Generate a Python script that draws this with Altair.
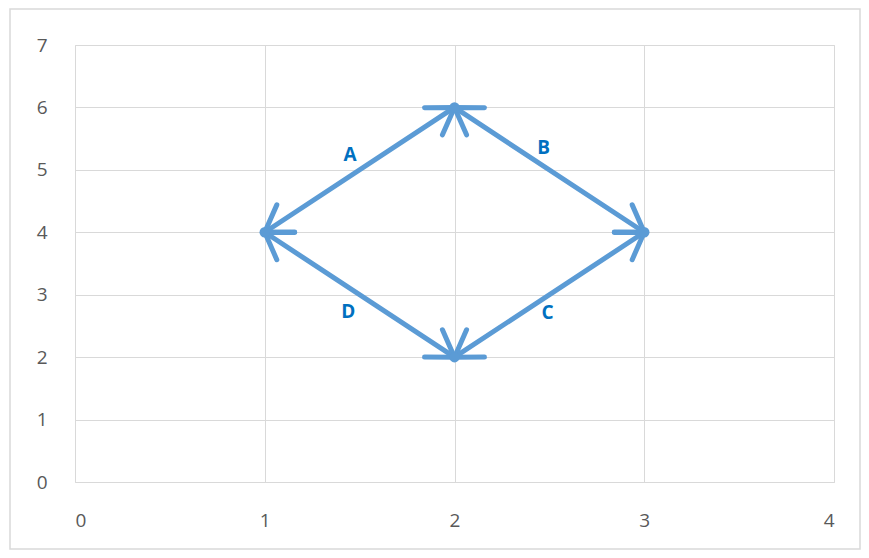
import math
import altair as alt
import pandas as pd

# ---- data ----
seg_names = ["A", "B", "C", "D"]
seg_x1 = [1, 2, 3, 2]
seg_y1 = [4, 6, 4, 2]
seg_x2 = [2, 3, 2, 1]
seg_y2 = [6, 4, 2, 4]
vertex_x = [1, 2, 3, 2]
vertex_y = [4, 6, 4, 2]
label_x = [1.45, 2.47, 2.49, 1.44]
label_y = [5.24, 5.35, 2.70, 2.72]
x_ticks = [0, 1, 2, 3, 4]
y_ticks = [0, 1, 2, 3, 4, 5, 6, 7]

W, H = 759, 437
X_DOMAIN = [0, 4]
Y_DOMAIN = [0, 7]
sx = W / (X_DOMAIN[1] - X_DOMAIN[0])
sy = H / (Y_DOMAIN[1] - Y_DOMAIN[0])

BLUE = "#5B9BD5"
LABEL_BLUE = "#0070C0"
GRID = "#D9D9D9"

# segments in long form (start / end point per segment)
line_rows = []
for n, a, b, c, d in zip(seg_names, seg_x1, seg_y1, seg_x2, seg_y2):
    line_rows.append({"name": n, "order": 0, "x": a, "y": b})
    line_rows.append({"name": n, "order": 1, "x": c, "y": d})
line_df = pd.DataFrame(line_rows)

# arrowheads at both ends of each segment, oriented along the segment
rows = []
for n, a, b, c, d in zip(seg_names, seg_x1, seg_y1, seg_x2, seg_y2):
    ang_end = math.degrees(math.atan2((c - a) * sx, (d - b) * sy)) % 360
    ang_start = math.degrees(math.atan2((a - c) * sx, (b - d) * sy)) % 360
    rows.append({"name": n, "x": c, "y": d, "angle": ang_end})
    rows.append({"name": n, "x": a, "y": b, "angle": ang_start})
arrow_df = pd.DataFrame(rows)

vert_df = pd.DataFrame({"x": vertex_x, "y": vertex_y})
lab_df = pd.DataFrame({"name": seg_names, "x": label_x, "y": label_y})

xs = alt.Scale(domain=X_DOMAIN, nice=False, zero=False)
ys = alt.Scale(domain=Y_DOMAIN, nice=False, zero=False)

xenc = alt.X("x:Q", scale=xs, axis=alt.Axis(values=x_ticks, format="d", title=None, grid=True,
            domain=False, ticks=False, labelPadding=29, labelFontSize=19,
            labelColor="#595959", labelFont="Open Sans", gridColor=GRID))
yenc = alt.Y("y:Q", scale=ys, axis=alt.Axis(values=y_ticks, format="d", title=None, grid=True,
            domain=False, ticks=False, labelPadding=28, labelFontSize=19,
            labelColor="#595959", labelFont="Open Sans", gridColor=GRID))

border = alt.Chart(pd.DataFrame({"a": [0]})).mark_rect(
    fill=None, stroke=GRID, strokeWidth=1.5
).encode(x=alt.value(-65), x2=alt.value(785), y=alt.value(-36), y2=alt.value(504))

lines = alt.Chart(line_df).mark_line(color=BLUE, strokeWidth=5, strokeCap="round").encode(
    x=xenc, y=yenc, detail="name:N", order="order:Q"
)

arrows = alt.Chart(arrow_df).mark_point(
    shape="M -0.55 0.85 L 0 0 L 0.55 0.85",
    filled=False, stroke=BLUE, strokeWidth=5, strokeCap="round",
    strokeJoin="round", opacity=1, size=3500,
).encode(x=alt.X("x:Q", scale=xs), y=alt.Y("y:Q", scale=ys),
         angle=alt.Angle("angle:Q", scale=None))

dots = alt.Chart(vert_df).mark_circle(color=BLUE, size=110, opacity=1).encode(
    x=alt.X("x:Q", scale=xs), y=alt.Y("y:Q", scale=ys)
)

labels = alt.Chart(lab_df).mark_text(
    color=LABEL_BLUE, font="Open Sans", fontWeight="bold", fontSize=19
).encode(x=alt.X("x:Q", scale=xs), y=alt.Y("y:Q", scale=ys), text="name:N")

chart = alt.layer(border, lines, arrows, dots, labels).properties(
    width=W, height=H,
    autosize=alt.AutoSizeParams(type="none"),
    padding={"left": 67, "top": 37, "right": 27, "bottom": 68},
).configure_view(stroke=None).configure(background="white")

chart.save("out.html", embed_options={"renderer": "svg", "actions": False})
